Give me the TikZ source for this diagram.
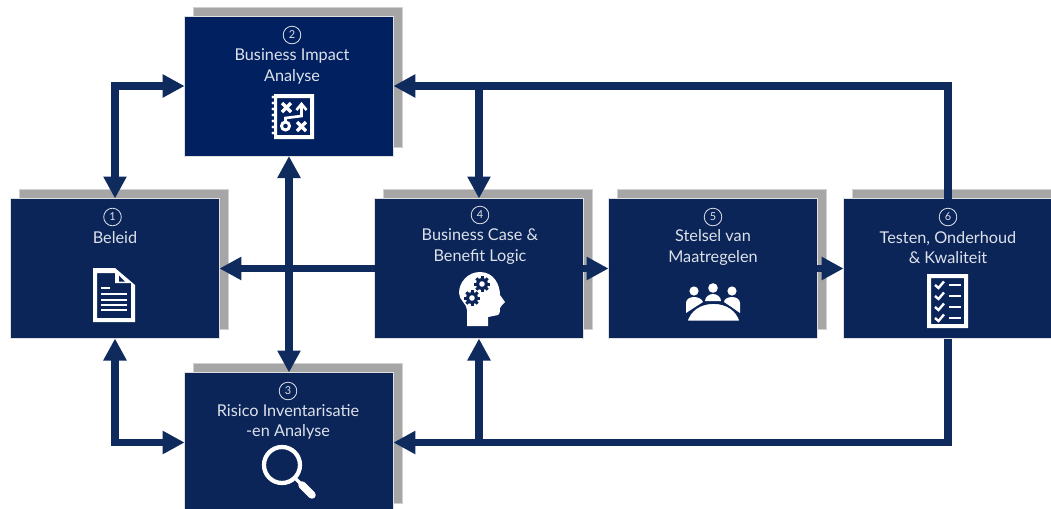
\documentclass[tikz,border=0pt]{standalone}
\usepackage{fontspec}
\setmainfont{Lato}
\usetikzlibrary{arrows.meta}
\definecolor{navy}{HTML}{0B2559}
\definecolor{navytwo}{HTML}{012060}
\definecolor{pijl}{HTML}{0F2B5E}
\definecolor{schaduw}{HTML}{A6A6A6}
\definecolor{tekst}{HTML}{DDE1EA}
\tikzset{
    box/.style={rectangle, draw=black!12, line width=0.5pt, fill=navy, minimum width=156.6pt, minimum height=105pt, outer sep=0pt, inner sep=0pt},
    shadowbox/.style={rectangle, draw=black!18, line width=0.5pt, fill=schaduw, minimum width=156.6pt, minimum height=105pt, inner sep=0pt},
    nummer/.style={circle, draw=tekst, line width=0.6pt, text=tekst, minimum size=13.2pt, inner sep=0pt, font=\fontsize{8.2}{9}\selectfont},
    titel/.style={align=center, text=tekst, inner sep=0pt, font=\fontsize{12.2}{15.4}\selectfont},
    pijlen/.style={draw=pijl, line width=5.5pt, -{Triangle[length=16.5pt,width=16.5pt]}},
    dubbel/.style={draw=pijl, line width=5.5pt, {Triangle[length=16.5pt,width=16.5pt]}-{Triangle[length=16.5pt,width=16.5pt]}},
}
\begin{document}
\begin{tikzpicture}[x=0.75pt, y=-0.75pt]
    \useasboundingbox (0,0) rectangle (1051,508);
    \clip (0,0) rectangle (1051,508);

    \node [shadowbox] (sbeleid) at (124,259) {};
    \node [shadowbox] (simpact) at (298,77) {};
    \node [shadowbox] (srisico) at (298,433) {};
    \node [shadowbox] (scase) at (488,259) {};
    \node [shadowbox] (sstelsel) at (722,259) {};
    \node [shadowbox] (stesten) at (957,259) {};

    \node [box] (beleid) at (115,268.5) {};
    \node [box, fill=navytwo] (impact) at (289,86) {};
    \node [box] (risico) at (289,442.5) {};
    \node [box] (case) at (479,268.5) {};
    \node [box] (stelsel) at (713,268.5) {};
    \node [box] (testen) at (948,268.5) {};

    \coordinate (boven) at (case.north |- impact.east);
    \coordinate (onder) at (case.south |- risico.east);

    \draw [dubbel] (beleid.north) |- (impact.west);
    \draw [dubbel] (beleid.south) |- (risico.west);
    \draw [dubbel] (impact.south) to (risico.north);
    \draw [pijlen] (case.west) to (beleid.east);
    \draw [pijlen] (case.east) to (stelsel.west);
    \draw [pijlen] (stelsel.east) to (testen.west);
    \draw [pijlen] (testen.north) |- (impact.east);
    \draw [pijlen] (boven) to (case.north);
    \draw [pijlen] (testen.south) |- (risico.east);
    \draw [pijlen] (onder) to (case.south);

    \node [nummer] (n1) at (112.5,217) {1};
    \node [nummer] (n2) at (292,35) {2};
    \node [nummer] (n3) at (288,391) {3};
    \node [nummer] (n4) at (480,215) {4};
    \node [nummer] (n5) at (713,217) {5};
    \node [nummer] (n6) at (948,217) {6};

    \node [titel] (t1) at (115,237.5) {Beleid};
    \node [titel] (t2) at (292,66.5) {Business Impact\\Analyse};
    \node [titel] (t3) at (288,422) {Risico Inventarisatie\\-en Analyse};
    \node [titel] (t4) at (480,246.5) {Business Case \&\\Benefit Logic};
    \node [titel] (t5) at (713,247.5) {Stelsel van\\Maatregelen};
    \node [titel] (t6) at (948,247.5) {Testen, Onderhoud\\\& Kwaliteit};

    \fill [white, even odd rule] (93,268) -- (115,268) -- (135,285) -- (135,322) -- (93,322) -- cycle
        (97,273) -- (115,273) -- (115,283) -- (131,283) -- (131,318) -- (97,318) -- cycle;
    \fill [white] (118,273) -- (127,282) -- (118,282) -- cycle;
    \fill [navy] (119,275.5) -- (125,281.5) -- (119,281.5) -- cycle;
    \draw [white, line width=1.4pt] (101,288) -- (110,288);
    \foreach \y in {294,300,305,310}
        \draw [white, line width=1.4pt] (101,\y) -- (127,\y);

    \fill [white, even odd rule] (274,94) rectangle (314,139) (277,98) rectangle (310,135);
    \foreach \y in {97,103,109,115,121,127,133}
        \fill [white] (273,\y) circle [radius=1.6];
    \draw [white, line width=2.4pt] (282,103) -- (291,112) (291,103) -- (282,112);
    \draw [white, line width=2.4pt] (297,122) -- (306,131) (306,122) -- (297,131);
    \draw [white, line width=2.2pt] (285.5,126) circle [radius=4];
    \draw [white, line width=2pt] (285.5,122) -- (285.5,118) -- (301.5,116) -- (301.5,104);
    \draw [white, line width=2pt] (296.5,110) -- (301.5,104) -- (306.5,110);

    \draw [white, line width=3.2pt] (282,465) circle [radius=18];
    \draw [white, line width=2.4pt] (295,478) -- (302,485);
    \draw [white, line width=5.6pt, line cap=round] (302,485) -- (312,495);

    \fill [white] (467,326) -- (488,326) -- (488,317) -- (498,315) .. controls (500,314) and (500,310) .. (500,308)
        -- (502,305) -- (505,302) -- (500,295) .. controls (500,285) and (494,272) .. (480,272)
        .. controls (468,272) and (459,282) .. (459,293) .. controls (459,300) and (467,304) .. (467,310) -- cycle;
    \foreach \cx/\cy in {482/284, 472/298} {
        \fill [navy] (\cx,\cy) circle [radius=6];
        \foreach \a in {0,45,...,315}
            \fill [navy, shift={(\cx,\cy)}, rotate=\a] (-1.5,4) rectangle (1.5,8);
        \fill [white] (\cx,\cy) circle [radius=2.8];
    }

    \fill [white] (694,291) circle [radius=4.6] (713,288) circle [radius=4.8] (732,291) circle [radius=4.6];
    \fill [white] (686,313) -- (686,303) .. controls (686,299) and (690,297) .. (694,297) .. controls (698,297) and (702,299) .. (703,302) -- cycle;
    \fill [white] (705,301) .. controls (705,297) and (709,294) .. (713,294) .. controls (717,294) and (721,297) .. (721,301) -- cycle;
    \fill [white] (740,313) -- (740,303) .. controls (740,299) and (736,297) .. (732,297) .. controls (728,297) and (724,299) .. (724,302) -- cycle;
    \fill [white, draw=navy, line width=1.3pt] (686.5,321.5) .. controls (690,310) and (700,303) .. (713.5,303) .. controls (727,303) and (737,310) .. (740.5,321.5) -- cycle;

    \fill [white, even odd rule] (927,274) rectangle (968,328) (931,278) rectangle (964,324);
    \foreach \y in {285,296,307,318} {
        \draw [white, line width=1.8pt] (935,\y) -- (938.5,\y+3) -- (944,\y-3.5);
        \draw [white, line width=1.8pt] (949,\y) -- (961,\y);
    }
\end{tikzpicture}
\end{document}
